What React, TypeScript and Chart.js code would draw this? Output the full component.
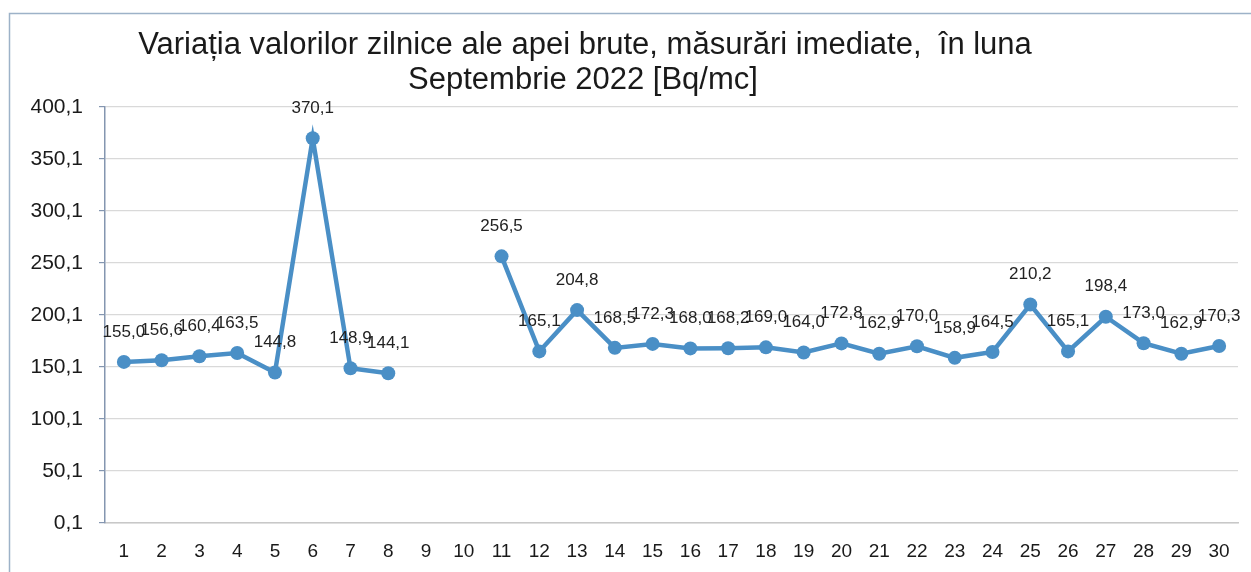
import React, { useEffect, useRef } from "react";
import { Chart, registerables } from "chart.js";

Chart.register(...registerables);

const titleLines = [
  "Variația valorilor zilnice ale apei brute, măsurări imediate,  în luna",
  "Septembrie 2022 [Bq/mc]",
];

const days = [
  "1", "2", "3", "4", "5", "6", "7", "8", "9", "10",
  "11", "12", "13", "14", "15", "16", "17", "18", "19", "20",
  "21", "22", "23", "24", "25", "26", "27", "28", "29", "30",
];

const values: (number | null)[] = [
  155.0, 156.6, 160.4, 163.5, 144.8, 370.1, 148.9, 144.1, null, null,
  256.5, 165.1, 204.8, 168.5, 172.3, 168.0, 168.2, 169.0, 164.0, 172.8,
  162.9, 170.0, 158.9, 164.5, 210.2, 165.1, 198.4, 173.0, 162.9, 170.3,
];

const yTicks = [0.1, 50.1, 100.1, 150.1, 200.1, 250.1, 300.1, 350.1, 400.1];

const fmt = (v: number) => v.toFixed(1).replace(".", ",");

const LINE_COLOR = "#4a8fc6";
const FONT = "'Liberation Sans', Arial, sans-serif";

export default function App() {
  const canvasRef = useRef<HTMLCanvasElement | null>(null);

  useEffect(() => {
    document.body.style.margin = "0";
    const canvas = canvasRef.current;
    if (!canvas) return;

    const framePlugin = {
      id: "frame",
      beforeDraw(chart: any) {
        const ctx = chart.ctx;
        ctx.save();
        ctx.fillStyle = "#ffffff";
        ctx.fillRect(0, 0, chart.width, chart.height);
        ctx.strokeStyle = "#9db2c8";
        ctx.lineWidth = 1.5;
        ctx.beginPath();
        ctx.moveTo(9.5, chart.height);
        ctx.lineTo(9.5, 13.5);
        ctx.lineTo(chart.width, 13.5);
        ctx.stroke();
        ctx.restore();
      },
      afterDraw(chart: any) {
        const ctx = chart.ctx;
        ctx.save();
        ctx.fillStyle = "#1a1a1a";
        ctx.font = `31px ${FONT}`;
        ctx.textAlign = "center";
        ctx.textBaseline = "alphabetic";
        ctx.fillText(titleLines[0], 585, 54);
        ctx.fillText(titleLines[1], 583, 89);
        ctx.restore();
      },
    };

    const labelPlugin = {
      id: "pointLabels",
      afterDatasetsDraw(chart: any) {
        const ctx = chart.ctx;
        const meta = chart.getDatasetMeta(0);
        const data = chart.data.datasets[0].data as (number | null)[];
        ctx.save();
        ctx.fillStyle = "#222222";
        ctx.font = `17px ${FONT}`;
        ctx.textAlign = "center";
        ctx.textBaseline = "middle";
        meta.data.forEach((pt: any, i: number) => {
          const v = data[i];
          if (v === null || v === undefined) return;
          ctx.fillText(fmt(v), pt.x, pt.y - 30);
        });
        ctx.restore();
      },
    };

    const chart = new Chart(canvas, {
      type: "line",
      data: {
        labels: days,
        datasets: [
          {
            data: values,
            borderColor: LINE_COLOR,
            backgroundColor: LINE_COLOR,
            borderWidth: 4.5,
            pointRadius: 7,
            pointBackgroundColor: LINE_COLOR,
            pointBorderColor: LINE_COLOR,
            pointBorderWidth: 0,
            spanGaps: false,
            tension: 0,
          },
        ],
      },
      options: {
        animation: false,
        responsive: true,
        maintainAspectRatio: false,
        layout: { padding: { left: 0, right: 13, top: 107, bottom: 0 } },
        plugins: {
          legend: { display: false },
          title: { display: false },
          tooltip: { enabled: false },
        },
        scales: {
          x: {
            type: "category",
            offset: true,
            grid: {
              display: true,
              drawOnChartArea: false,
              drawTicks: false,
              tickLength: 0,
            },
            border: { display: true, color: "#c8c8c8", width: 1.5 },
            ticks: {
              color: "#1a1a1a",
              font: { family: FONT, size: 19 },
              padding: 17,
              maxRotation: 0,
              autoSkip: false,
            },
            afterFit(scale: any) {
              scale.height = 49;
            },
          },
          y: {
            type: "linear",
            min: 0.1,
            max: 400.1,
            afterBuildTicks(scale: any) {
              scale.ticks = yTicks.map((v) => ({ value: v }));
            },
            grid: {
              color: "#d9d9d9",
              lineWidth: 1.2,
              drawTicks: true,
              tickLength: 6,
              tickColor: "#8496b0",
            },
            border: { display: true, color: "#8496b0", width: 1.5 },
            ticks: {
              color: "#1a1a1a",
              font: { family: FONT, size: 21 },
              padding: 16,
              callback: (v: any) => fmt(Number(v)),
            },
            afterFit(scale: any) {
              scale.width = 105;
            },
          },
        },
      },
      plugins: [framePlugin, labelPlugin],
    });

    return () => chart.destroy();
  }, []);

  return (
    <div style={{ width: 1251, height: 572, position: "relative" }}>
      <canvas ref={canvasRef} />
    </div>
  );
}
